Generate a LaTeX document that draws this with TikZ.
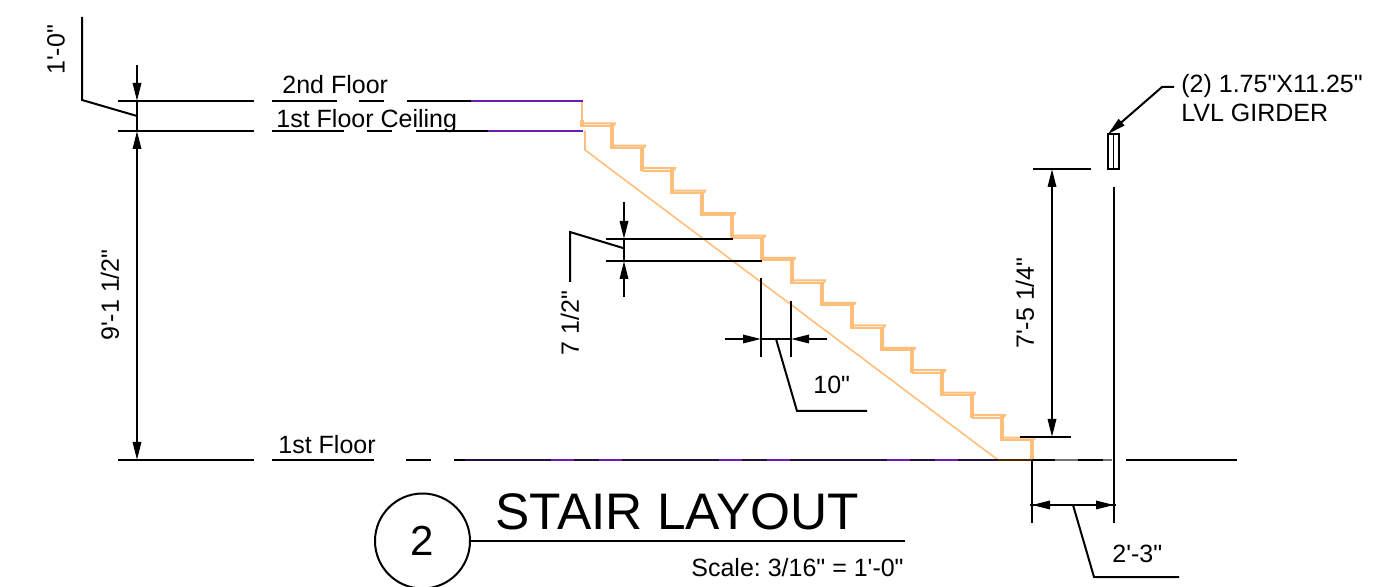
\documentclass[tikz,border=0pt]{standalone}
\usepackage{fontspec}
\setmainfont{Liberation Sans}[Ligatures=TeXOff]
\usetikzlibrary{arrows.meta}
\definecolor{stairc}{HTML}{FFBE7A}
\definecolor{floorp}{HTML}{6A1CB4}
\definecolor{floord}{HTML}{26103F}
\tikzset{
  x=0.5pt,y=-0.5pt,
  ln/.style={draw=black,line width=1pt},
  thin ln/.style={draw=black,line width=0.7pt},
  dim/.style={ln,-{Triangle[length=9pt,width=4.2pt]}},
  dimboth/.style={ln,{Triangle[length=9pt,width=4.2pt]}-{Triangle[length=9pt,width=4.2pt]}},
  lbl/.style={font=\fontsize{12.5}{14}\selectfont,inner sep=0pt,anchor=base west},
  rlbl/.style={font=\fontsize{12.5}{14}\selectfont,inner sep=0pt,rotate=90},
  stair/.style={draw=stairc,line width=1pt,line join=miter},
  stringer/.style={draw=stairc,line width=0.8pt,line join=miter},
  riser/.style={draw=stairc,line width=1.9pt},
  purp/.style={draw=floorp,line width=1pt},
  dark/.style={draw=floord,line width=1pt},
}
\begin{document}
\begin{tikzpicture}
\useasboundingbox (0,0) rectangle (1398,587);
% stairs
\draw[stringer] (582,101)--(582,124);
\draw[stringer] (585,131)--(585,150)--(998,460);
\foreach \k in {0,...,14}{
  \pgfmathsetmacro{\xa}{582+30*\k}
  \pgfmathsetmacro{\xb}{\xa+33}
  \pgfmathsetmacro{\ya}{124.5+22.45*\k}
  \pgfmathsetmacro{\yu}{\ya-1.2}
  \pgfmathsetmacro{\yd}{\ya+1.2}
  \pgfmathsetmacro{\xr}{\xa+30}
  \pgfmathsetmacro{\yn}{\ya+22.45}
  \draw[stair] (\xa,\yu)--(\xb,\yu)--(\xb-1,\ya+1);
  \draw[stair] (\xa,\yd)--(\xb-2,\yd);
  \ifnum\k<14
    \draw[riser] (\xr,\ya)--(\xr,\yn+2);
  \fi
}
\draw[riser] (582,120)--(582,127);
\draw[riser] (1032,440)--(1032,459);
% floor lines
\foreach \a/\b in {118/254,272/337,359/384,407/475} \draw[ln] (\a,101)--(\b,101);
\draw[purp] (471,101)--(583,101);
\foreach \a/\b in {118/254,272/344,367/392,416/490} \draw[ln] (\a,131)--(\b,131);
\draw[purp] (488,131)--(583,131);
\foreach \a/\b in {118/254,272/374,406/431,454/1112,1126/1237} \draw[ln] (\a,460)--(\b,460);
\draw[dark] (465,460)--(998,460);
\foreach \a/\b in {551/574,599/622,719/742,767/790,887/910,935/958} \draw[purp] (\a,460)--(\b,460);
\draw[draw=black!70!orange,line width=1pt] (998,460)--(1032,460);
\foreach \a/\b in {1055/1078,1103/1112} \draw[draw=black!55,line width=1pt] (\a,460)--(\b,460);
% left dimensions
\draw[dim] (137,65)--(137,101);
\draw[ln] (137,101)--(137,131);
\draw[dimboth] (137,131)--(137,460);
\draw[ln] (137,116)--(82,100)--(82,17);
\node[rlbl] (dimA) at (56,50) {1'-0"};
\node[rlbl] (dimB) at (110,295) {9'-1 1/2"};
% riser dimension
\draw[ln] (606,239)--(733,239);
\draw[ln] (606,261)--(762,261);
\draw[dim] (624,202)--(624,239);
\draw[ln] (624,239)--(624,261);
\draw[dim] (624,297)--(624,261);
\draw[ln] (623,248)--(570,232)--(570,282);
\node[rlbl] (dimC) at (570,323) {7 1/2"};
% tread dimension
\draw[ln] (761,278)--(761,357);
\draw[ln] (791,301)--(791,357);
\draw[dim] (725,339)--(761,339);
\draw[dim] (827,339)--(791,339);
\draw[ln] (761,339)--(791,339);
\draw[ln] (776,339)--(797,411)--(867,411);
\node[lbl] (dimD) at (813,394) {10"};
% girder
\draw[thin ln] (1108,134) rectangle (1119,169);
\draw[thin ln] (1113.5,134)--(1113.5,169);
\draw[ln] (1114,187)--(1114,523);
\draw[ln] (1032,460)--(1032,523);
\draw[ln,-{Triangle[length=9pt,width=4.2pt]}] (1174,87)--(1162,87)--(1108,134);
\node[lbl] (gA) at (1181,93) {(2) 1.75"X11.25"};
\node[lbl] (gB) at (1181,122) {LVL GIRDER};
% height dimension
\draw[ln] (1033,169)--(1091,169);
\draw[ln] (1020,437)--(1071,437);
\draw[dimboth] (1052,169)--(1052,437);
\node[rlbl] (dimE) at (1025,303) {7'-5 1/4"};
% width dimension
\draw[dimboth] (1032,505)--(1114,505);
\draw[thin ln] (1030,505)--(1116,505);
\draw[ln] (1073,505)--(1094,577)--(1179,577);
\node[lbl] (dimF) at (1112,562) {2'-3"};
% floor labels
\node[lbl] (fA) at (282,94) {2nd Floor};
\node[lbl] (fB) at (276,128) {1st Floor Ceiling};
\node[lbl] (fC) at (278,454) {1st Floor};
% title
\node[draw=black,line width=1pt,circle,minimum size=47.5pt,inner sep=0pt] (num) at (422.5,541) {};
\node[font=\fontsize{21}{24}\selectfont,inner sep=0pt] (numt) at (422.5,541) {2};
\coordinate (tend) at (905,541);
\draw[ln] (num.east)--(tend);
\node[lbl,font=\fontsize{25.7}{30}\selectfont] (title) at (495,530) {STAIR LAYOUT};
\node[lbl,font=\fontsize{12.5}{14}\selectfont\frenchspacing] (scale) at (691,576) {Scale: 3/16" = 1'-0"};
\end{tikzpicture}
\end{document}
